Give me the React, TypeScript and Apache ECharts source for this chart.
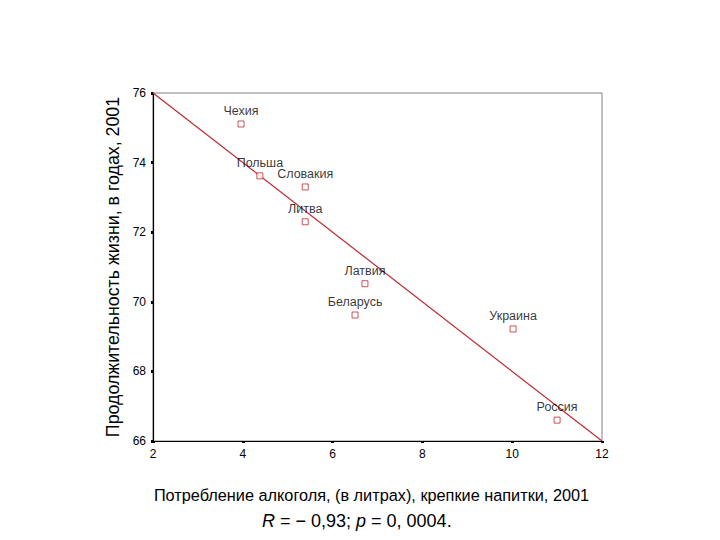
import React, { useEffect, useRef } from "react";
import * as echarts from "echarts";

const countries = ["Чехия", "Польша", "Словакия", "Литва", "Латвия", "Беларусь", "Украина", "Россия"];
const alcohol = [3.96, 4.38, 5.39, 5.39, 6.72, 6.5, 10.02, 11.0];
const lifeExp = [75.11, 73.62, 73.3, 72.3, 70.52, 69.62, 69.22, 66.6];
const fitX = [2, 12];
const fitY = [76, 66];

const FONT = "Liberation Sans, Arial, sans-serif";

export default function App() {
  const ref = useRef<HTMLDivElement>(null);
  useEffect(() => {
    const chart = echarts.init(ref.current!, null, { renderer: "svg" });
    chart.setOption({
      animation: false,
      backgroundColor: "#ffffff",
      textStyle: { fontFamily: FONT },
      grid: {
        left: 153,
        right: 118,
        top: 93,
        bottom: 99,
        show: true,
        borderColor: "#808080",
        borderWidth: 1,
        backgroundColor: "transparent",
      },
      xAxis: {
        type: "value",
        min: 2,
        max: 12,
        interval: 2,
        name: "Потребление алкоголя, (в литрах), крепкие напитки, 2001",
        nameLocation: "middle",
        nameGap: 46,
        nameTextStyle: { fontSize: 16.3, color: "#000", fontFamily: FONT, padding: [0, 12, 0, 0] },
        axisLine: { lineStyle: { color: "#000", width: 1.2 } },
        axisTick: { show: true, inside: false, length: 2, lineStyle: { color: "#000", width: 3 } },
        axisLabel: { fontSize: 12, color: "#000", margin: 7, fontFamily: FONT },
        splitLine: { show: false },
      },
      yAxis: {
        type: "value",
        min: 66,
        max: 76,
        interval: 2,
        name: "Продолжительность жизни, в годах, 2001",
        nameLocation: "middle",
        nameGap: 28,
        nameTextStyle: { fontSize: 17.8, color: "#000", fontFamily: FONT },
        axisLine: { lineStyle: { color: "#000", width: 1.2 } },
        axisTick: { show: true, inside: false, length: 2, lineStyle: { color: "#000", width: 3 } },
        axisLabel: { fontSize: 12, color: "#000", margin: 7, fontFamily: FONT },
        splitLine: { show: false },
      },
      series: [
        {
          type: "line",
          data: fitX.map((x, i) => [x, fitY[i]]),
          showSymbol: false,
          symbol: "none",
          lineStyle: { color: "#c0282d", width: 1.2 },
          z: 2,
        },
        {
          type: "scatter",
          data: countries.map((c, i) => ({ name: c, value: [alcohol[i], lifeExp[i]] })),
          symbol: "rect",
          symbolSize: 6,
          itemStyle: { color: "#ffffff", borderColor: "#c0282d", borderWidth: 1 },
          label: {
            show: true,
            position: "top",
            distance: 3,
            formatter: (p: any) => p.name,
            fontSize: 12.5,
            color: "#000",
            fontFamily: FONT,
          },
          z: 3,
        },
      ],
      graphic: [
        {
          type: "text",
          left: 262,
          top: 512,
          style: {
            text: "{i|R} = − 0,93; {i|p} = 0, 0004.",
            fontSize: 18,
            fill: "#000",
            fontFamily: FONT,
            rich: {
              i: { fontStyle: "italic", fontSize: 18, fontFamily: FONT, fill: "#000" },
            },
          },
        },
      ],
    });
    return () => chart.dispose();
  }, []);
  return <div ref={ref} style={{ width: 720, height: 540, margin: -8 }} />;
}
